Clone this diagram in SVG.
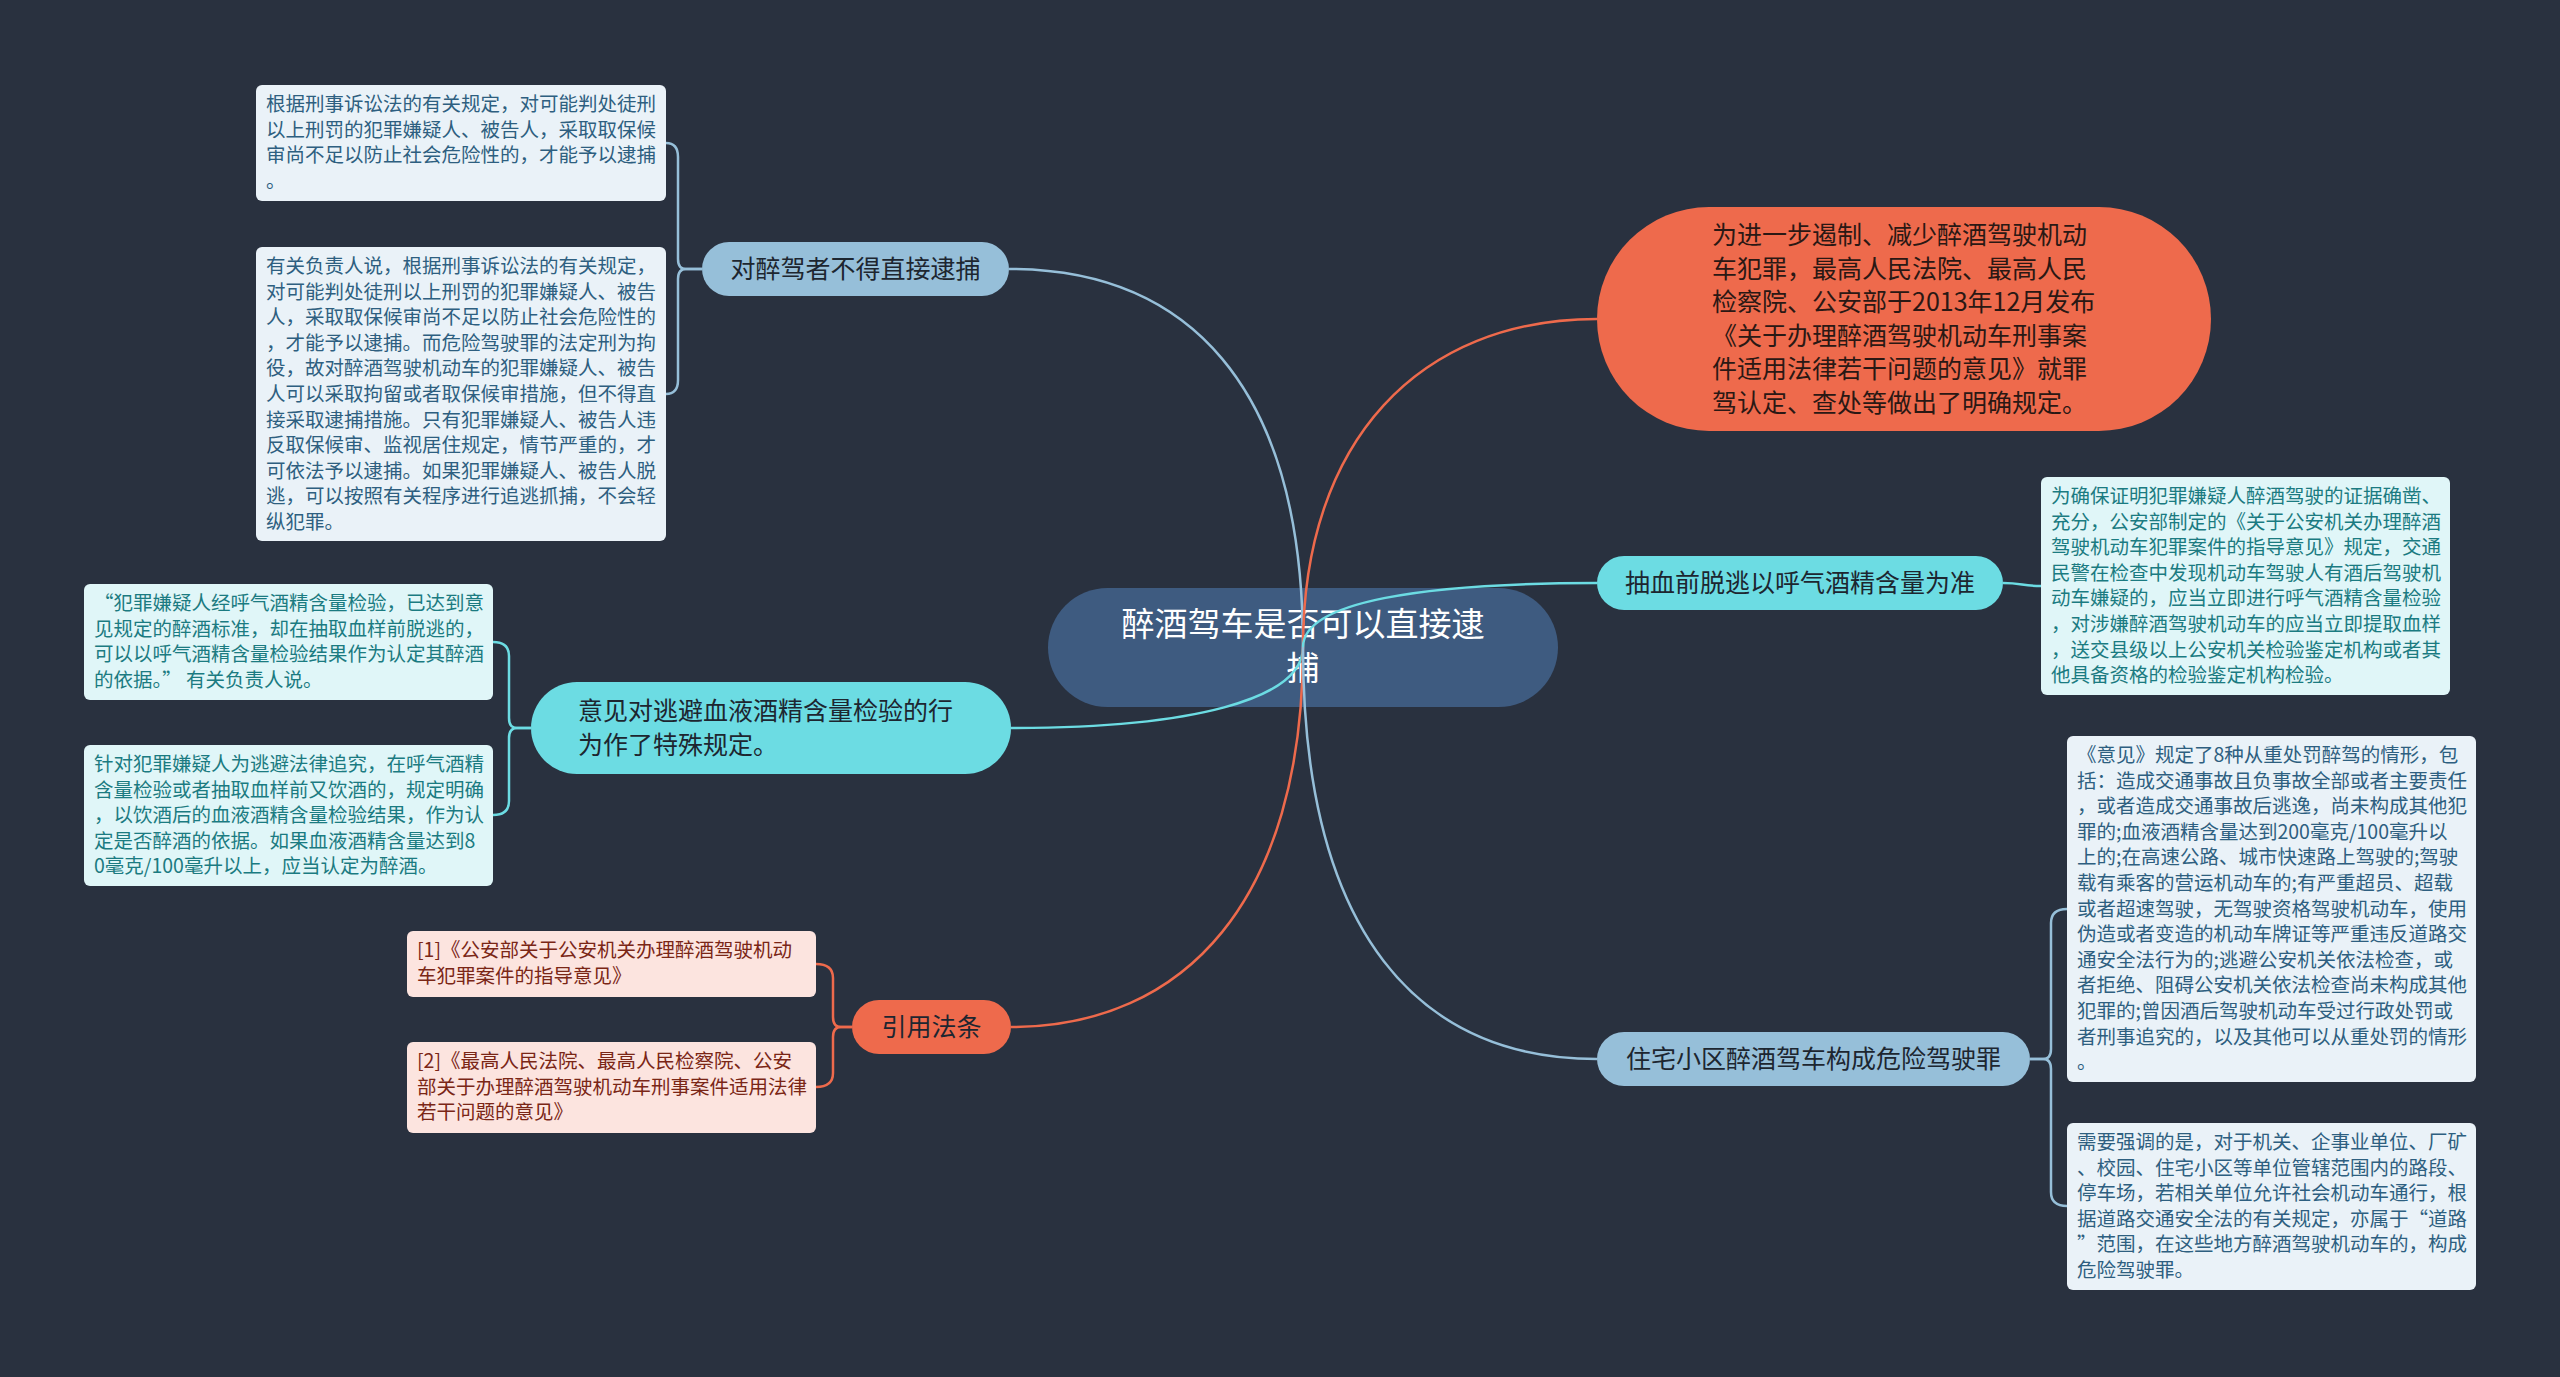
<svg xmlns="http://www.w3.org/2000/svg" width="2560" height="1377" viewBox="0 0 2560 1377">
<defs>
<style>
text{font-family:"Noto Sans CJK SC","Noto Sans",sans-serif;}
.bg{fill:#29313f;}
.center{fill:#3e5b80;}
.ctext{fill:#ffffff;font-size:33px;text-anchor:middle;}
.mtext{fill:#1d2630;font-size:25px;}
.mid{text-anchor:middle;}
.pblue{fill:#96bfd9;}
.pcyan{fill:#6cdce3;}
.porange{fill:#ee6a4c;}
.lblue{fill:#eaf2f8;}
.lcyan{fill:#e0f6f8;}
.lorange{fill:#fce4df;}
.ltext{font-size:19.5px;}
.tblue{fill:#2e5f80;}
.tcyan{fill:#1b7b81;}
.torange{fill:#7a2616;}
.cb{stroke:#96bfd9;}
.cc{stroke:#6cdce3;}
.co{stroke:#ee6a4c;}
#connectors path{fill:none;stroke-width:2.5;}
</style>
</defs>
<rect class="bg" x="0" y="0" width="2560" height="1377"/>

<g id="center-node">
<rect class="center" x="1048" y="588" width="510" height="119" rx="59.5"/>
<text class="ctext"><tspan x="1303" y="636">醉酒驾车是否可以直接逮</tspan><tspan x="1303" y="680">捕</tspan></text>
</g>

<g id="connectors">
<path class="cb" d="M1303,647 C1303,382 1185,269 1009,269"/>
<path class="cc" d="M1303,647 C1303,700 1190,728 1011,728"/>
<path class="co" d="M1303,647 C1303,900 1185,1027 1011,1027"/>
<path class="co" d="M1303,647 C1303,440 1420,319 1597,319"/>
<path class="cc" d="M1303,647 C1303,602 1421,583 1597,583"/>
<path class="cb" d="M1303,647 C1303,935 1420,1059 1597,1059"/>
<path class="cb" d="M702,269 H686 Q678,269 678,259 V157 Q678,143 666,143"/>
<path class="cb" d="M702,269 H686 Q678,269 678,279 V380 Q678,394 666,394"/>
<path class="cc" d="M531,728 H517 Q509,728 509,718 V656 Q509,642 493,642"/>
<path class="cc" d="M531,728 H517 Q509,728 509,738 V801 Q509,815 493,815"/>
<path class="co" d="M852,1027 H841 Q833,1027 833,1017 V978 Q833,964 816,964"/>
<path class="co" d="M852,1027 H841 Q833,1027 833,1037 V1073 Q833,1087 816,1087"/>
<path class="cc" d="M2003,583 C2022,583 2022,586 2041,586"/>
<path class="cb" d="M2030,1059 H2043 Q2051,1059 2051,1049 V923 Q2051,909 2067,909"/>
<path class="cb" d="M2030,1059 H2043 Q2051,1059 2051,1069 V1192 Q2051,1206 2067,1206"/>
</g>

<g id="branch-a">
<rect class="pblue" x="702" y="242" width="307" height="54" rx="27"/>
<text class="mtext mid" x="855.5" y="278">对醉驾者不得直接逮捕</text>
</g>
<g id="leaf-a1">
<rect class="lblue" x="256" y="85" width="410" height="116" rx="6"/>
<text class="ltext tblue"><tspan x="266" y="111">根据刑事诉讼法的有关规定，对可能判处徒刑</tspan><tspan x="266" y="136.6">以上刑罚的犯罪嫌疑人、被告人，采取取保候</tspan><tspan x="266" y="162.2">审尚不足以防止社会危险性的，才能予以逮捕</tspan><tspan x="266" y="187.8">。</tspan></text>
</g>
<g id="leaf-a2">
<rect class="lblue" x="256" y="247" width="410" height="294" rx="6"/>
<text class="ltext tblue"><tspan x="266" y="273">有关负责人说，根据刑事诉讼法的有关规定，</tspan><tspan x="266" y="298.6">对可能判处徒刑以上刑罚的犯罪嫌疑人、被告</tspan><tspan x="266" y="324.2">人，采取取保候审尚不足以防止社会危险性的</tspan><tspan x="266" y="349.8">，才能予以逮捕。而危险驾驶罪的法定刑为拘</tspan><tspan x="266" y="375.4">役，故对醉酒驾驶机动车的犯罪嫌疑人、被告</tspan><tspan x="266" y="401">人可以采取拘留或者取保候审措施，但不得直</tspan><tspan x="266" y="426.6">接采取逮捕措施。只有犯罪嫌疑人、被告人违</tspan><tspan x="266" y="452.2">反取保候审、监视居住规定，情节严重的，才</tspan><tspan x="266" y="477.8">可依法予以逮捕。如果犯罪嫌疑人、被告人脱</tspan><tspan x="266" y="503.4">逃，可以按照有关程序进行追逃抓捕，不会轻</tspan><tspan x="266" y="529">纵犯罪。</tspan></text>
</g>

<g id="branch-b">
<rect class="pcyan" x="531" y="682" width="480" height="92" rx="46"/>
<text class="mtext"><tspan x="578" y="720">意见对逃避血液酒精含量检验的行</tspan><tspan x="578" y="754">为作了特殊规定。</tspan></text>
</g>
<g id="leaf-b1">
<rect class="lcyan" x="84" y="584" width="409" height="116" rx="6"/>
<text class="ltext tcyan"><tspan x="94" y="610">“犯罪嫌疑人经呼气酒精含量检验，已达到意</tspan><tspan x="94" y="635.6">见规定的醉酒标准，却在抽取血样前脱逃的，</tspan><tspan x="94" y="661.2">可以以呼气酒精含量检验结果作为认定其醉酒</tspan><tspan x="94" y="686.8">的依据。” 有关负责人说。</tspan></text>
</g>
<g id="leaf-b2">
<rect class="lcyan" x="84" y="745" width="409" height="141" rx="6"/>
<text class="ltext tcyan"><tspan x="94" y="771">针对犯罪嫌疑人为逃避法律追究，在呼气酒精</tspan><tspan x="94" y="796.6">含量检验或者抽取血样前又饮酒的，规定明确</tspan><tspan x="94" y="822.2">，以饮酒后的血液酒精含量检验结果，作为认</tspan><tspan x="94" y="847.8">定是否醉酒的依据。如果血液酒精含量达到8</tspan><tspan x="94" y="873.4">0毫克/100毫升以上，应当认定为醉酒。</tspan></text>
</g>

<g id="branch-c">
<rect class="porange" x="852" y="1000" width="159" height="54" rx="27"/>
<text class="mtext mid" x="931.5" y="1036">引用法条</text>
</g>
<g id="leaf-c1">
<rect class="lorange" x="407" y="931" width="409" height="66" rx="6"/>
<text class="ltext torange"><tspan x="417" y="957">[1]《公安部关于公安机关办理醉酒驾驶机动</tspan><tspan x="417" y="982.6">车犯罪案件的指导意见》</tspan></text>
</g>
<g id="leaf-c2">
<rect class="lorange" x="407" y="1042" width="409" height="91" rx="6"/>
<text class="ltext torange"><tspan x="417" y="1068">[2]《最高人民法院、最高人民检察院、公安</tspan><tspan x="417" y="1093.6">部关于办理醉酒驾驶机动车刑事案件适用法律</tspan><tspan x="417" y="1119.2">若干问题的意见》</tspan></text>
</g>

<g id="branch-d">
<rect class="porange" x="1597" y="207" width="614" height="224" rx="112"/>
<text class="mtext" style="fill:#2a1814"><tspan x="1712" y="244">为进一步遏制、减少醉酒驾驶机动</tspan><tspan x="1712" y="277.5">车犯罪，最高人民法院、最高人民</tspan><tspan x="1712" y="311">检察院、公安部于2013年12月发布</tspan><tspan x="1712" y="344.5">《关于办理醉酒驾驶机动车刑事案</tspan><tspan x="1712" y="378">件适用法律若干问题的意见》就罪</tspan><tspan x="1712" y="411.5">驾认定、查处等做出了明确规定。</tspan></text>
</g>

<g id="branch-e">
<rect class="pcyan" x="1597" y="556" width="406" height="54" rx="27"/>
<text class="mtext mid" x="1800" y="592">抽血前脱逃以呼气酒精含量为准</text>
</g>
<g id="leaf-e1">
<rect class="lcyan" x="2041" y="477" width="409" height="218" rx="6"/>
<text class="ltext tcyan"><tspan x="2051" y="503">为确保证明犯罪嫌疑人醉酒驾驶的证据确凿、</tspan><tspan x="2051" y="528.6">充分，公安部制定的《关于公安机关办理醉酒</tspan><tspan x="2051" y="554.2">驾驶机动车犯罪案件的指导意见》规定，交通</tspan><tspan x="2051" y="579.8">民警在检查中发现机动车驾驶人有酒后驾驶机</tspan><tspan x="2051" y="605.4">动车嫌疑的，应当立即进行呼气酒精含量检验</tspan><tspan x="2051" y="631">，对涉嫌醉酒驾驶机动车的应当立即提取血样</tspan><tspan x="2051" y="656.6">，送交县级以上公安机关检验鉴定机构或者其</tspan><tspan x="2051" y="682.2">他具备资格的检验鉴定机构检验。</tspan></text>
</g>

<g id="branch-f">
<rect class="pblue" x="1597" y="1032" width="433" height="54" rx="27"/>
<text class="mtext mid" x="1813.5" y="1068">住宅小区醉酒驾车构成危险驾驶罪</text>
</g>
<g id="leaf-f1">
<rect class="lblue" x="2067" y="736" width="409" height="346" rx="6"/>
<text class="ltext tblue"><tspan x="2077" y="762">《意见》规定了8种从重处罚醉驾的情形，包</tspan><tspan x="2077" y="787.6">括：造成交通事故且负事故全部或者主要责任</tspan><tspan x="2077" y="813.2">，或者造成交通事故后逃逸，尚未构成其他犯</tspan><tspan x="2077" y="838.8">罪的;血液酒精含量达到200毫克/100毫升以</tspan><tspan x="2077" y="864.4">上的;在高速公路、城市快速路上驾驶的;驾驶</tspan><tspan x="2077" y="890">载有乘客的营运机动车的;有严重超员、超载</tspan><tspan x="2077" y="915.6">或者超速驾驶，无驾驶资格驾驶机动车，使用</tspan><tspan x="2077" y="941.2">伪造或者变造的机动车牌证等严重违反道路交</tspan><tspan x="2077" y="966.8">通安全法行为的;逃避公安机关依法检查，或</tspan><tspan x="2077" y="992.4">者拒绝、阻碍公安机关依法检查尚未构成其他</tspan><tspan x="2077" y="1018">犯罪的;曾因酒后驾驶机动车受过行政处罚或</tspan><tspan x="2077" y="1043.6">者刑事追究的，以及其他可以从重处罚的情形</tspan><tspan x="2077" y="1069.2">。</tspan></text>
</g>
<g id="leaf-f2">
<rect class="lblue" x="2067" y="1123" width="409" height="167" rx="6"/>
<text class="ltext tblue"><tspan x="2077" y="1149">需要强调的是，对于机关、企事业单位、厂矿</tspan><tspan x="2077" y="1174.6">、校园、住宅小区等单位管辖范围内的路段、</tspan><tspan x="2077" y="1200.2">停车场，若相关单位允许社会机动车通行，根</tspan><tspan x="2077" y="1225.8">据道路交通安全法的有关规定，亦属于“道路</tspan><tspan x="2077" y="1251.4">”范围，在这些地方醉酒驾驶机动车的，构成</tspan><tspan x="2077" y="1277">危险驾驶罪。</tspan></text>
</g>
</svg>
